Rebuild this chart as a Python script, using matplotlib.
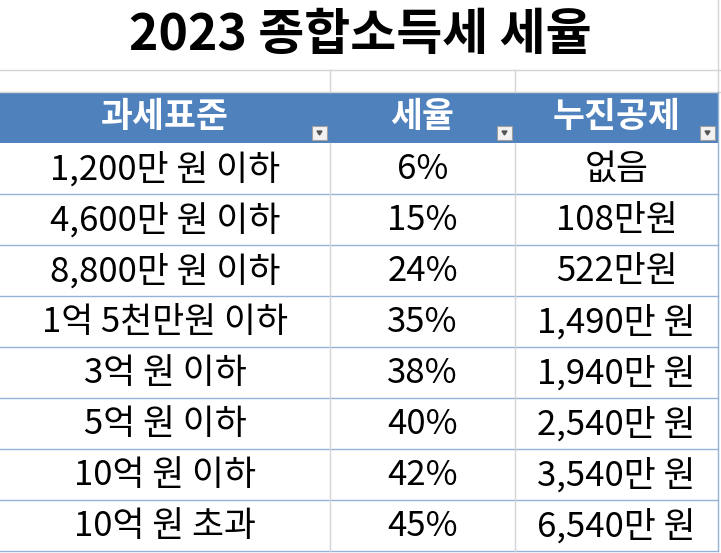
import matplotlib
matplotlib.use("Agg")
import matplotlib.pyplot as plt
from matplotlib.patches import Rectangle

plt.rcParams["font.family"] = "Noto Sans CJK KR"

title = "2023 종합소득세 세율"
headers = ["과세표준", "세율", "누진공제"]
brackets = ["1,200만 원 이하", "4,600만 원 이하", "8,800만 원 이하", "1억 5천만원 이하",
            "3억 원 이하", "5억 원 이하", "10억 원 이하", "10억 원 초과"]
rates = ["6%", "15%", "24%", "35%", "38%", "40%", "42%", "45%"]
deductions = ["없음", "108만원", "522만원", "1,490만 원", "1,940만 원",
              "2,540만 원", "3,540만 원", "6,540만 원"]

W, H = 721, 553
col_x = [0, 330, 515, 718]
head_top, head_bot = 92, 143
row_h = 51

fig = plt.figure(figsize=(W / 100, H / 100), dpi=100)
ax = fig.add_axes([0, 0, 1, 1])
ax.set_xlim(0, W)
ax.set_ylim(H, 0)
ax.axis("off")

grid = "#d4d4d4"
# spreadsheet gridlines above the table
for y in (70, 92):
    ax.plot([0, W], [y, y], color=grid, lw=1)
for x in col_x[1:3]:
    ax.plot([x, x], [70, 92], color=grid, lw=1)
ax.plot([718, 718], [0, 92], color=grid, lw=1)

ax.text(360, 36, title, ha="center", va="center", fontsize=36, fontweight="bold")

# header band
ax.add_patch(Rectangle((0, head_top), 718, head_bot - head_top, color="#4f81bd", lw=0))
for i, h in enumerate(headers):
    cx = (col_x[i] + col_x[i + 1]) / 2
    ax.text(cx, 117, h, ha="center", va="center", fontsize=25, fontweight="bold", color="white")
    bx = col_x[i + 1] - 18
    ax.add_patch(Rectangle((bx, 126), 15, 14, facecolor="#f2f2f2", edgecolor="#a0a0a0", lw=0.8))
    ax.fill([bx + 5, bx + 10, bx + 7.5], [131, 131, 135], color="#555555")

# body
for r, row in enumerate(zip(brackets, rates, deductions)):
    top = head_bot + r * row_h
    ax.plot([0, 718], [top + row_h, top + row_h], color="#95b3d7", lw=1)
    for i, val in enumerate(row):
        cx = (col_x[i] + col_x[i + 1]) / 2
        ax.text(cx, top + row_h / 2 + 1, val, ha="center", va="center", fontsize=25, color="black")
body_bot = head_bot + len(brackets) * row_h
for x in col_x[1:3]:
    ax.plot([x, x], [head_bot, body_bot], color=grid, lw=1)
ax.plot([718, 718], [head_top, body_bot], color="#95b3d7", lw=1)

fig.savefig("out.png", dpi=100)
